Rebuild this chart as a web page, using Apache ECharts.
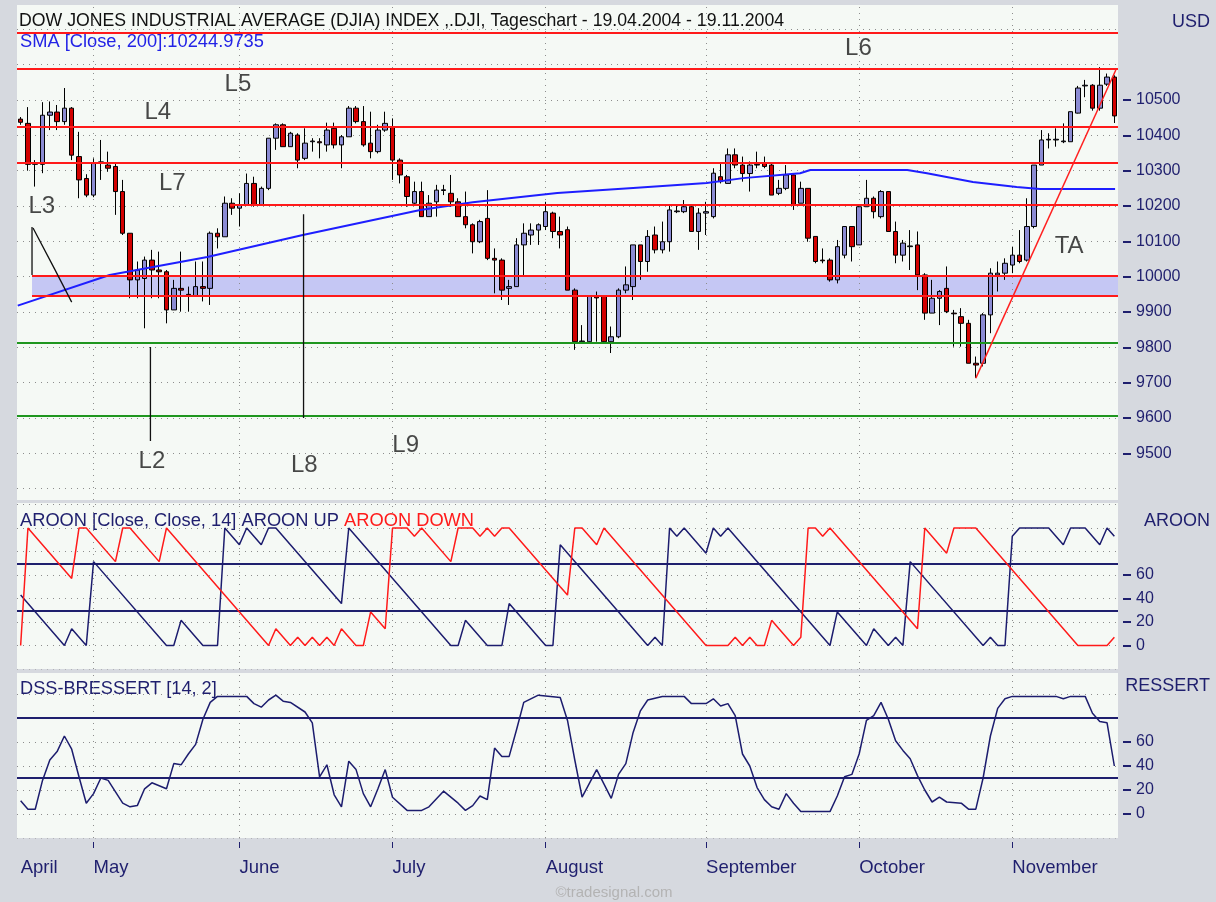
<!DOCTYPE html>
<html>
<head>
<meta charset="utf-8">
<title>DJIA Tageschart 19.04.2004 - 19.11.2004</title>
<script src="https://cdn.jsdelivr.net/npm/echarts@6.0.0/dist/echarts.min.js"></script>
<style>
  html, body { margin: 0; padding: 0; background: #d6d9df; }
  #chart { width: 1216px; height: 902px; }
</style>
</head>
<body>
<div id="chart"></div>
<script>
  // ---- data ----
  const firstDay = [2004, 3, 19];
  const lastDay = [2004, 10, 19];
  const holidays = ['2004-05-31', '2004-06-11', '2004-07-05', '2004-09-06'];
  const monthNames = ['January', 'February', 'March', 'April', 'May', 'June', 'July',
    'August', 'September', 'October', 'November', 'December'];

  // [open, close, low, high]
  const candles = [
    [10446, 10437, 10430, 10452], [10434, 10318, 10300, 10480], [10318, 10322, 10255, 10330],
    [10318, 10457, 10293, 10494], [10457, 10466, 10415, 10496], [10466, 10439, 10415, 10486],
    [10439, 10477, 10430, 10534], [10477, 10344, 10330, 10480], [10340, 10274, 10222, 10410],
    [10278, 10231, 10225, 10290], [10231, 10321, 10225, 10335], [10321, 10325, 10274, 10387],
    [10316, 10307, 10297, 10354], [10312, 10241, 10175, 10321], [10241, 10123, 10118, 10274],
    [10123, 9991, 9939, 10123], [9991, 10019, 9939, 10043], [9995, 10047, 9854, 10057],
    [10047, 10019, 9939, 10076], [10019, 10014, 9939, 10071], [10014, 9906, 9868, 10019],
    [9906, 9967, 9906, 9991], [9967, 9962, 9901, 10071], [9950, 9945, 9901, 9972],
    [9945, 9972, 9944, 10043], [9972, 9967, 9930, 10043], [9967, 10123, 9920, 10128],
    [10123, 10113, 10080, 10137], [10113, 10208, 10113, 10227], [10208, 10194, 10175, 10222],
    [10194, 10203, 10142, 10236], [10203, 10264, 10203, 10292], [10264, 10203, 10198, 10283],
    [10203, 10250, 10203, 10255], [10250, 10392, 10245, 10392], [10392, 10430, 10359, 10434],
    [10430, 10368, 10368, 10434], [10368, 10406, 10368, 10410], [10401, 10330, 10307, 10406],
    [10335, 10378, 10330, 10420], [10382, 10384, 10354, 10392], [10382, 10379, 10335, 10392],
    [10373, 10415, 10354, 10436], [10420, 10373, 10363, 10436], [10373, 10396, 10307, 10401],
    [10396, 10477, 10396, 10483], [10477, 10439, 10434, 10483], [10439, 10373, 10368, 10483],
    [10378, 10354, 10335, 10467], [10354, 10415, 10349, 10430], [10415, 10434, 10410, 10467],
    [10425, 10330, 10274, 10448], [10330, 10288, 10264, 10335], [10283, 10227, 10198, 10288],
    [10208, 10241, 10203, 10269], [10241, 10170, 10170, 10269], [10170, 10208, 10170, 10231],
    [10212, 10245, 10170, 10260], [10244, 10246, 10231, 10260], [10236, 10212, 10198, 10288],
    [10212, 10170, 10170, 10222], [10170, 10147, 10137, 10241], [10147, 10099, 10066, 10151],
    [10099, 10156, 10095, 10161], [10165, 10052, 10047, 10245], [10052, 10047, 9953, 10080],
    [10047, 9962, 9934, 10052], [9967, 9972, 9920, 9991], [9972, 10090, 9972, 10109],
    [10090, 10123, 10000, 10151], [10118, 10132, 10090, 10151], [10132, 10147, 10090, 10151],
    [10142, 10184, 10132, 10212], [10180, 10128, 10109, 10184], [10128, 10118, 10080, 10170],
    [10133, 9962, 9962, 10142], [9962, 9816, 9793, 9967], [9816, 9818, 9812, 9863],
    [9816, 9944, 9812, 9944], [9944, 9940, 9816, 9958], [9944, 9816, 9812, 9944],
    [9816, 9830, 9784, 9859], [9830, 9962, 9826, 9967], [9962, 9977, 9953, 10029],
    [9972, 10090, 9934, 10090], [10090, 10043, 9991, 10090], [10043, 10114, 10014, 10132],
    [10118, 10076, 10066, 10142], [10076, 10099, 10066, 10156], [10099, 10189, 10071, 10203],
    [10184, 10186, 10180, 10203], [10184, 10198, 10180, 10217], [10198, 10128, 10128, 10203],
    [10128, 10180, 10076, 10194], [10180, 10184, 10118, 10212], [10170, 10293, 10165, 10307],
    [10283, 10269, 10264, 10321], [10264, 10345, 10264, 10363], [10345, 10316, 10307, 10363],
    [10316, 10292, 10269, 10340], [10292, 10316, 10241, 10326], [10316, 10318, 10307, 10354],
    [10321, 10312, 10307, 10340], [10316, 10231, 10231, 10321], [10236, 10250, 10231, 10274],
    [10250, 10288, 10245, 10316], [10288, 10203, 10189, 10293], [10208, 10250, 10208, 10269],
    [10250, 10109, 10099, 10250], [10114, 10043, 10038, 10114], [10047, 10045, 10038, 10080],
    [10047, 9991, 9986, 10052], [9991, 10085, 9981, 10104], [10061, 10142, 10052, 10142],
    [10142, 10085, 10043, 10142], [10090, 10198, 10090, 10203], [10198, 10222, 10198, 10274],
    [10222, 10184, 10165, 10227], [10170, 10241, 10165, 10245], [10241, 10128, 10128, 10241],
    [10128, 10061, 10038, 10156], [10061, 10095, 10043, 10104], [10085, 10087, 10019, 10132],
    [10090, 10005, 9962, 10128], [10005, 9897, 9878, 10010], [9897, 9939, 9897, 9991],
    [9939, 9958, 9863, 9962], [9967, 9901, 9897, 10029], [9897, 9895, 9802, 9906],
    [9887, 9868, 9802, 9911], [9868, 9755, 9755, 9878], [9755, 9750, 9713, 9774],
    [9755, 9892, 9746, 9897], [9892, 10010, 9840, 10024], [10005, 10010, 9958, 10043],
    [10010, 10038, 9991, 10052], [10033, 10061, 10010, 10085], [10061, 10043, 10038, 10132],
    [10047, 10142, 10043, 10222], [10142, 10316, 10137, 10316], [10316, 10387, 10316, 10415],
    [10387, 10389, 10363, 10406], [10387, 10389, 10368, 10420], [10382, 10384, 10378, 10434],
    [10382, 10467, 10382, 10467], [10463, 10534, 10462, 10540], [10540, 10542, 10508, 10557],
    [10542, 10477, 10470, 10545], [10477, 10542, 10470, 10593], [10545, 10565, 10540, 10575],
    [10565, 10455, 10435, 10570]
  ];

  // SMA 200, read at the bends of the drawn line: [day index, value]
  const sma200 = [[-0.4, 9918], [12.2, 10005], [25.6, 10056], [38.7, 10118], [54.8, 10189],
    [62, 10211], [73.6, 10237], [84, 10251], [94.1, 10265], [99.1, 10279], [106.9, 10293],
    [108.3, 10302], [121.6, 10302], [124.3, 10293], [130.6, 10268], [136.6, 10254],
    [139.8, 10248], [150.1, 10248]];

  const aroonUp = [[0, 42.9], [6, 0], [7, 14.3], [9, 0], [10, 71.4], [20, 0], [21, 0], [22, 21.4],
    [25, 0], [27, 0], [28, 100], [30, 85.7], [31, 100], [33, 85.7], [34, 100], [35, 100], [44, 35.7],
    [45, 100], [59, 0], [60, 0], [61, 21.4], [64, 0], [66, 0], [67, 35.7], [72, 0], [73, 0], [74, 85.7],
    [86, 0], [87, 7.1], [88, 0], [89, 100], [90, 92.9], [91, 100], [94, 78.6], [95, 100], [96, 92.9],
    [97, 100], [111, 0], [112, 28.6], [116, 0], [117, 14.3], [119, 0], [120, 7.1], [121, 0], [122, 71.4],
    [132, 0], [133, 7.1], [134, 0], [135, 0], [136, 92.9], [137, 100], [141, 100], [143, 85.7],
    [144, 100], [146, 100], [148, 85.7], [149, 100], [150, 92.9]];

  const aroonDown = [[0, 0], [1, 100], [7, 57.1], [8, 100], [9, 100], [13, 71.4], [14, 100], [15, 100],
    [19, 71.4], [20, 100], [34, 0], [35, 14.3], [37, 0], [38, 7.1], [39, 0], [40, 7.1], [41, 0], [42, 7.1],
    [43, 0], [44, 14.3], [46, 0], [47, 0], [48, 28.6], [50, 14.3], [51, 100], [53, 100], [54, 92.9],
    [55, 100], [59, 71.4], [60, 100], [62, 100], [63, 92.9], [64, 100], [65, 92.9], [66, 100], [67, 100],
    [74, 50], [75, 42.9], [76, 100], [77, 100], [79, 85.7], [80, 100], [94, 0], [97, 0], [98, 7.1],
    [99, 0], [100, 7.1], [101, 0], [102, 0], [103, 21.4], [104, 14.3], [106, 0], [107, 7.1], [108, 100],
    [109, 100], [110, 92.9], [111, 100], [121, 28.6], [123, 14.3], [124, 100], [127, 78.6], [128, 100],
    [131, 100], [145, 0], [149, 0], [150, 7.1]];

  const dssBressert = [[0, 11], [1, 4], [2, 4], [3, 28], [4, 45], [5, 52], [6, 65], [7, 54], [8, 31],
    [9, 9], [10, 17], [11, 30], [12, 28], [14, 9], [15, 6], [16, 7], [17, 21], [18, 26], [20, 21],
    [21, 42], [22, 41], [23, 50], [24, 58], [25, 79], [26, 93], [27, 98], [31, 98], [32, 92], [33, 89],
    [34, 95], [35, 99], [36, 94], [37, 93], [39, 85], [40, 76], [41, 31], [42, 41], [43, 16], [44, 6],
    [45, 44], [46, 37], [47, 17], [48, 6], [49, 21], [50, 37], [51, 14], [53, 3], [55, 3], [56, 6],
    [58, 19], [60, 9], [61, 3], [62, 7], [63, 15], [64, 12], [65, 55], [66, 48], [67, 48], [68, 70],
    [69, 93], [71, 99], [74, 97], [75, 78], [76, 45], [77, 14], [79, 37], [81, 13], [82, 33], [83, 42],
    [84, 68], [85, 86], [86, 95], [88, 98], [91, 98], [92, 92], [94, 92], [95, 96], [96, 90], [97, 92],
    [98, 82], [99, 50], [100, 40], [101, 22], [102, 12], [103, 6], [104, 4], [105, 17], [106, 9],
    [107, 2], [111, 2], [112, 15], [113, 31], [114, 33], [115, 50], [116, 78], [117, 82], [118, 93],
    [119, 79], [120, 61], [121, 53], [122, 46], [123, 32], [124, 20], [125, 10], [126, 14], [127, 10],
    [129, 9], [130, 4], [131, 4], [132, 30], [133, 65], [134, 88], [135, 96], [136, 98], [142, 98],
    [143, 96], [144, 98], [146, 98], [147, 84], [148, 77], [149, 76], [150, 40]];

  const priceTicks = [9500, 9600, 9700, 9800, 9900, 10000, 10100, 10200, 10300, 10400, 10500];
  const priceGridLevels = [9400, 9500, 9600, 9700, 9800, 9900, 10000, 10100, 10200, 10300, 10400, 10500, 10600, 10700];
  const oscTicks = [0, 20, 40, 60];
  const oscGridLevels = [-20, 0, 20, 40, 60, 80, 100, 120];

  // drawn support / resistance levels: [from day index, level]
  const redLevels = [[-0.5, 10690], [-0.5, 10588], [-0.5, 10424], [-0.5, 10322], [28.7, 10204],
    [1.56, 10002], [1.56, 9946]];
  const greenLevels = [9812, 9607];
  const zone = [1.56, 10002, 150.5, 9946];
  const trendTA = [[131, 9713], [150.2, 10585]];
  const drawings = [
    [[1.56, 10141], [1.56, 10005]],
    [[1.7, 10138], [4.7, 10020], [7.0, 9928]],
    [[17.8, 9801], [17.8, 9535]],
    [[38.8, 10177], [38.8, 9600]]
  ];
  const drawingLabels = [['L5', 29.8, 10545], ['L4', 18.8, 10466], ['L7', 20.8, 10265],
    ['L3', 2.9, 10200], ['L2', 18.0, 9478], ['L8', 38.9, 9467], ['L9', 52.8, 9524],
    ['L6', 114.9, 10645], ['TA', 143.8, 10085]];
  const aroonLevels = [70, 30];
  const dssLevels = [80, 30];

  // ---- trading days ----
  const dates = [];
  for (let t = Date.UTC(...firstDay); t <= Date.UTC(...lastDay); t += 86400000) {
    const d = new Date(t);
    const s = d.toISOString().slice(0, 10);
    if (d.getUTCDay() > 0 && d.getUTCDay() < 6 && !holidays.includes(s)) dates.push(s);
  }
  const isMonthStart = i => i === 0 || dates[i].slice(5, 7) !== dates[i - 1].slice(5, 7);
  const monthStarts = dates.map((d, i) => i).filter(i => i > 0 && isMonthStart(i));

  // ---- layout / style ----
  const navy = '#1f1f6e';
  const font = 'Liberation Sans';
  const dotStyle = { color: '#8d8d8d', width: 1, type: [1, 5], opacity: 1 };
  const xLo = -0.5, xHi = 150.5;
  const priceRange = [9368, 10769];
  const aroonRange = [-20, 121.3];
  const dssRange = [-20, 117.5];
  const panelBg = '#f5f9f5';

  const hLines = (levels, x0, x1) => levels.map(v => ({ coords: [[x0, v], [x1, v]] }));
  const vLines = (idx, range) => idx.map(i => ({ coords: [[i, range[0]], [i, range[1]]] }));

  const gridBase = { left: 17, width: 1101, show: true, backgroundColor: panelBg, borderWidth: 0, outerBoundsMode: 'none', containLabel: false };
  const valueX = grid => ({ type: 'value', gridIndex: grid, min: xLo, max: xHi, show: false, axisLine: { onZero: false } });
  const rightAxis = (grid, range, ticks) => ({
    type: 'value', gridIndex: grid, position: 'right', min: range[0], max: range[1], offset: 5,
    axisLine: { show: false, onZero: false }, splitLine: { show: false },
    axisTick: { show: true, inside: false, length: 8, customValues: ticks, lineStyle: { color: navy, width: 2 } },
    axisLabel: { show: true, customValues: ticks, margin: 13, color: navy, fontSize: 16, fontFamily: font, hideOverlap: false, formatter: v => String(v) }
  });

  const option = {
    animation: false,
    backgroundColor: '#d6d9df',
    grid: [
      Object.assign({ top: 5, height: 495 }, gridBase),
      Object.assign({ top: 503, height: 166 }, gridBase),
      Object.assign({ top: 673, height: 165 }, gridBase)
    ],
    xAxis: [
      { type: 'category', gridIndex: 0, data: dates, boundaryGap: true, show: false, axisLine: { onZero: false } },
      valueX(0),
      valueX(1),
      {
        type: 'category', gridIndex: 2, data: dates, boundaryGap: true, position: 'bottom', offset: 4,
        axisLine: { show: false, onZero: false },
        axisTick: { show: true, alignWithLabel: true, length: 6, interval: i => i > 0 && isMonthStart(i), lineStyle: { color: navy, width: 1 } },
        axisLabel: {
          show: true, interval: i => isMonthStart(i), align: 'left', margin: 16, hideOverlap: false,
          color: navy, fontSize: 18.5, fontFamily: font,
          formatter: v => monthNames[parseInt(v.slice(5, 7), 10) - 1]
        },
        splitLine: { show: false }
      },
      valueX(2)
    ],
    yAxis: [
      rightAxis(0, priceRange, priceTicks),
      rightAxis(1, aroonRange, oscTicks),
      rightAxis(2, dssRange, oscTicks)
    ],
    graphic: { elements: [
      { type: 'text', x: 19, y: 21, silent: true, style: { text: 'DOW JONES INDUSTRIAL AVERAGE (DJIA) INDEX ,.DJI, Tageschart - 19.04.2004 - 19.11.2004', fill: '#111', fontSize: 17.7, fontFamily: font, verticalAlign: 'middle' } },
      { type: 'text', x: 20, y: 42, silent: true, style: { text: 'SMA [Close, 200]:10244.9735', fill: '#2323e6', fontSize: 18.3, fontFamily: font, verticalAlign: 'middle' } },
      { type: 'text', x: 20, y: 521, silent: true, style: {
        text: '{a|AROON [Close, Close, 14] AROON UP }{b|AROON DOWN}', verticalAlign: 'middle',
        rich: { a: { fill: navy, fontSize: 18.3, fontFamily: font }, b: { fill: '#ff1a1a', fontSize: 18.3, fontFamily: font } } } },
      { type: 'text', x: 20, y: 689, silent: true, style: { text: 'DSS-BRESSERT [14, 2]', fill: navy, fontSize: 18.2, fontFamily: font, verticalAlign: 'middle' } },
      { type: 'text', x: 1210, y: 22, silent: true, style: { text: 'USD', fill: navy, fontSize: 18, fontFamily: font, align: 'right', verticalAlign: 'middle' } },
      { type: 'text', x: 1210, y: 521, silent: true, style: { text: 'AROON', fill: navy, fontSize: 18, fontFamily: font, align: 'right', verticalAlign: 'middle' } },
      { type: 'text', x: 1210, y: 686, silent: true, style: { text: 'RESSERT', fill: navy, fontSize: 18, fontFamily: font, align: 'right', verticalAlign: 'middle' } },
      { type: 'text', x: 614, y: 893, silent: true, style: { text: '\u00A9tradesignal.com', fill: '#b3b3b3', fontSize: 15, fontFamily: font, align: 'center', verticalAlign: 'middle' } }
    ] },
    series: [
      // ---- price panel ----
      {
        type: 'custom', xAxisIndex: 1, yAxisIndex: 0, z: 1, silent: true,
        data: [zone], encode: { x: [0, 2], y: [1, 3] },
        renderItem: (params, api) => {
          const p0 = api.coord([api.value(0), api.value(1)]);
          const p1 = api.coord([api.value(2), api.value(3)]);
          return { type: 'rect', shape: { x: p0[0], y: p0[1], width: p1[0] - p0[0], height: p1[1] - p0[1] }, style: { fill: '#c5c7f4' } };
        }
      },
      {
        type: 'lines', coordinateSystem: 'cartesian2d', xAxisIndex: 1, yAxisIndex: 0, z: 1, silent: true,
        lineStyle: dotStyle,
        data: hLines(priceGridLevels, xLo, xHi).concat(vLines(monthStarts, priceRange))
      },
      {
        name: 'DJIA', type: 'candlestick', xAxisIndex: 0, yAxisIndex: 0, z: 3, barWidth: 5,
        data: candles,
        itemStyle: { color: '#8b8bd3', color0: '#d20000', borderColor: '#000', borderColor0: '#000', borderColorDoji: '#000', borderWidth: 1 }
      },
      {
        name: 'SMA 200', type: 'line', xAxisIndex: 1, yAxisIndex: 0, z: 4, silent: true,
        data: sma200, showSymbol: false, lineStyle: { color: '#1e1eff', width: 2 }
      },
      {
        type: 'lines', coordinateSystem: 'cartesian2d', xAxisIndex: 1, yAxisIndex: 0, z: 5, silent: true,
        lineStyle: { color: '#ff1a1a', width: 2, opacity: 1 },
        data: redLevels.map(r => ({ coords: [[r[0], r[1]], [xHi, r[1]]] }))
      },
      {
        type: 'lines', coordinateSystem: 'cartesian2d', xAxisIndex: 1, yAxisIndex: 0, z: 5, silent: true,
        lineStyle: { color: '#1f961f', width: 2, opacity: 1 },
        data: hLines(greenLevels, xLo, xHi)
      },
      {
        type: 'lines', coordinateSystem: 'cartesian2d', xAxisIndex: 1, yAxisIndex: 0, z: 5, silent: true,
        polyline: true, lineStyle: { color: '#111', width: 1.3, opacity: 1 },
        data: drawings.map(c => ({ coords: c }))
      },
      {
        type: 'lines', coordinateSystem: 'cartesian2d', xAxisIndex: 1, yAxisIndex: 0, z: 5, silent: true,
        lineStyle: { color: '#ff2020', width: 1.5, opacity: 1 },
        data: [{ coords: trendTA }]
      },
      {
        type: 'scatter', xAxisIndex: 1, yAxisIndex: 0, z: 6, silent: true, symbolSize: 1,
        itemStyle: { color: 'rgba(0,0,0,0)' },
        data: drawingLabels.map(l => ({ name: l[0], value: [l[1], l[2]] })),
        label: { show: true, position: 'inside', formatter: '{b}', color: '#1a1a1a', fontSize: 24, fontFamily: font }
      },
      // ---- AROON panel ----
      {
        type: 'lines', coordinateSystem: 'cartesian2d', xAxisIndex: 2, yAxisIndex: 1, z: 1, silent: true,
        lineStyle: dotStyle,
        data: hLines(oscGridLevels, xLo, xHi).concat(vLines(monthStarts, aroonRange))
      },
      {
        type: 'lines', coordinateSystem: 'cartesian2d', xAxisIndex: 2, yAxisIndex: 1, z: 3, silent: true,
        lineStyle: { color: navy, width: 2, opacity: 1 },
        data: hLines(aroonLevels, xLo, xHi)
      },
      {
        name: 'AROON UP', type: 'line', xAxisIndex: 2, yAxisIndex: 1, z: 4, silent: true,
        data: aroonUp, showSymbol: false, lineStyle: { color: '#1c1c6e', width: 1.5 }
      },
      {
        name: 'AROON DOWN', type: 'line', xAxisIndex: 2, yAxisIndex: 1, z: 4, silent: true,
        data: aroonDown, showSymbol: false, lineStyle: { color: '#ff1a1a', width: 1.5 }
      },
      // ---- DSS panel ----
      {
        type: 'lines', coordinateSystem: 'cartesian2d', xAxisIndex: 4, yAxisIndex: 2, z: 1, silent: true,
        lineStyle: dotStyle,
        data: hLines(oscGridLevels.filter(v => v <= 100), xLo, xHi).concat(vLines(monthStarts, dssRange))
      },
      {
        type: 'lines', coordinateSystem: 'cartesian2d', xAxisIndex: 4, yAxisIndex: 2, z: 3, silent: true,
        lineStyle: { color: navy, width: 2, opacity: 1 },
        data: hLines(dssLevels, xLo, xHi)
      },
      {
        name: 'DSS-BRESSERT', type: 'line', xAxisIndex: 4, yAxisIndex: 2, z: 4, silent: true,
        data: dssBressert, showSymbol: false, lineStyle: { color: '#1c1c6e', width: 1.5 }
      }
    ]
  };

  const chart = echarts.init(document.getElementById('chart'));
  chart.setOption(option);
</script>
</body>
</html>
